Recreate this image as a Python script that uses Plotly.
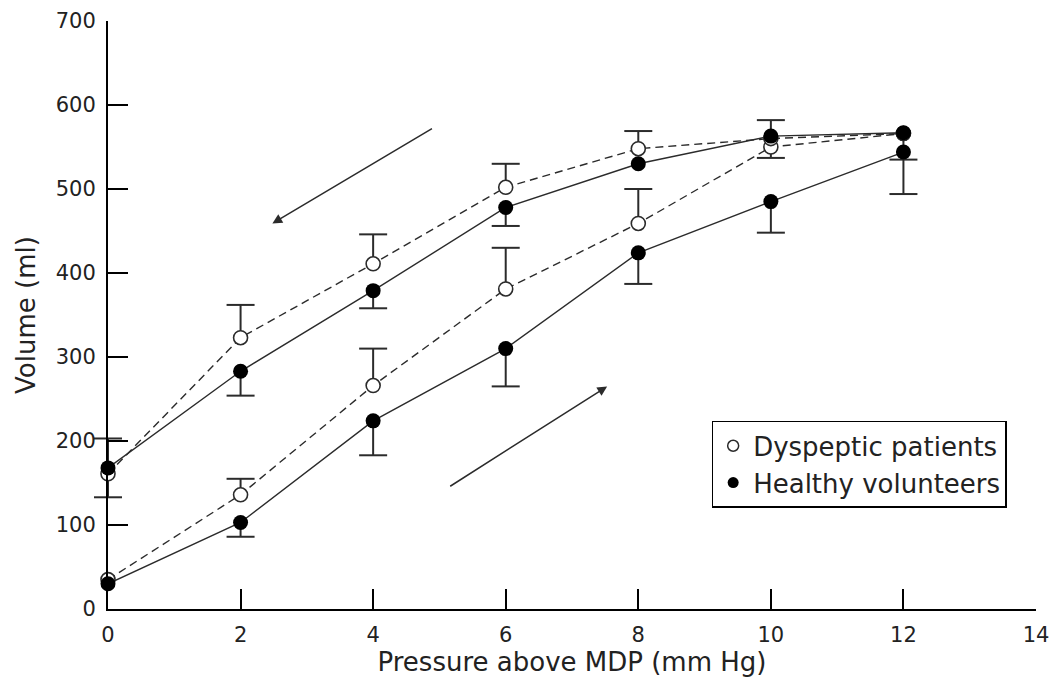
import plotly.graph_objects as go

# ---- data ----
pressure = [0, 2, 4, 6, 8, 10, 12]

dysp_inflation = [35, 136, 266, 381, 459, 550, 566]
dysp_inflation_err = [None, 19, 44, 49, 41, 32, None]          # upward SEM

dysp_deflation = [161, 323, 411, 502, 548, 560, 566]
dysp_deflation_err = [42, 39, 35, 28, 21, None, None]           # upward SEM

healthy_inflation = [30, 103, 224, 310, 424, 485, 544]
healthy_inflation_err = [None, 17, 41, 45, 37, 37, 50]          # downward SEM

healthy_deflation = [168, 283, 379, 478, 530, 563, 567]
healthy_deflation_err = [35, 29, 21, 22, None, 26, 32]          # downward SEM

# direction arrows: (tail_x, tail_y, head_x, head_y) in data units
arrow_deflation = (4.91, 573, 2.48, 459)
arrow_inflation = (5.14, 145, 7.53, 265)

legend_labels = ["Dyspeptic patients", "Healthy volunteers"]

FONT = "DejaVu Sans"
INK = "#2b2b2b"

fig = go.Figure()


def add_errorbars(xs, ys, errs, sign):
    bx, by, cx, cy = [], [], [], []
    for x, y, e in zip(xs, ys, errs):
        if e is None:
            continue
        end = y + sign * e
        bx += [x, x, None]
        by += [y, end, None]
        cx.append(x)
        cy.append(end)
    fig.add_trace(go.Scatter(x=bx, y=by, mode="lines", line=dict(color=INK, width=2),
                             showlegend=False, hoverinfo="skip", cliponaxis=False))
    fig.add_trace(go.Scatter(x=cx, y=cy, mode="markers", showlegend=False, hoverinfo="skip",
                             cliponaxis=False,
                             marker=dict(symbol="line-ew", size=20,
                                         line=dict(color=INK, width=2))))


add_errorbars(pressure, dysp_inflation, dysp_inflation_err, +1)
add_errorbars(pressure, dysp_deflation, dysp_deflation_err, +1)
add_errorbars(pressure, healthy_inflation, healthy_inflation_err, -1)
add_errorbars(pressure, healthy_deflation, healthy_deflation_err, -1)

open_marker = dict(symbol="circle", size=14, color="white", line=dict(color=INK, width=1.6))
filled_marker = dict(symbol="circle", size=15, color="black", line=dict(color="black", width=0))

for ys in (dysp_inflation, dysp_deflation):
    fig.add_trace(go.Scatter(x=pressure, y=ys, mode="lines+markers", showlegend=False,
                             cliponaxis=False,
                             line=dict(color=INK, width=1.4, dash="8px,5px"),
                             marker=open_marker))
for ys in (healthy_inflation, healthy_deflation):
    fig.add_trace(go.Scatter(x=pressure, y=ys, mode="lines+markers", showlegend=False,
                             cliponaxis=False,
                             line=dict(color=INK, width=1.4),
                             marker=filled_marker))

# legend-only entries (symbol only, as in the original)
fig.add_trace(go.Scatter(x=[None], y=[None], mode="markers", name=legend_labels[0],
                         marker=dict(symbol="circle", size=11, color="white",
                                     line=dict(color=INK, width=1.5))))
fig.add_trace(go.Scatter(x=[None], y=[None], mode="markers", name=legend_labels[1],
                         marker=dict(symbol="circle", size=11, color="black")))

for tx, ty, hx, hy in (arrow_deflation, arrow_inflation):
    fig.add_annotation(x=hx, y=hy, ax=tx, ay=ty, xref="x", yref="y", axref="x", ayref="y",
                       showarrow=True, arrowhead=2, arrowsize=1.3, arrowwidth=1.5,
                       arrowcolor=INK, text="")

axis_common = dict(showgrid=False, zeroline=False, showline=True, linecolor="black",
                   linewidth=2, ticks="inside", ticklen=20, tickwidth=2, tickcolor="black",
                   automargin=False, ticklabelstandoff=6,
                   tickfont=dict(family=FONT, size=21, color="#222"),
                   title_font=dict(family=FONT, size=26, color="#222"))

fig.update_xaxes(range=[0, 14], dtick=2, tick0=0, title_text="Pressure above MDP (mm Hg)",
                 title_standoff=0, **axis_common)
fig.update_yaxes(range=[0, 700], dtick=100, tick0=0, title_text="Volume (ml)",
                 title_standoff=13, **axis_common)

# the page body adds an 8px offset, so the figure is 8px smaller than the window
fig.update_layout(
    width=1051, height=676,
    margin=dict(l=100, r=23, t=13, b=75, pad=0),
    plot_bgcolor="white", paper_bgcolor="white",
    font=dict(family=FONT, color="#222"),
    legend=dict(x=0.6505, y=0.32, xanchor="left", yanchor="top",
                bordercolor="black", borderwidth=1.5, bgcolor="white",
                font=dict(family=FONT, size=26, color="#222"),
                tracegroupgap=0, itemsizing="trace"),
)

fig.write_html("out.html")
